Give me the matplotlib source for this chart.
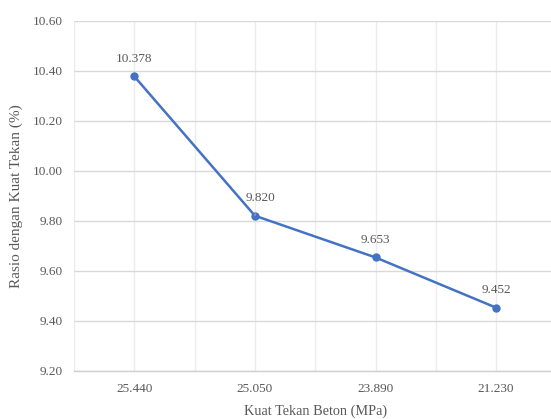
import matplotlib.pyplot as plt

# Data
kuat_tekan = ['25.440', '25.050', '23.890', '21.230']
rasio = [10.378, 9.820, 9.653, 9.452]
y_ticks = [9.20, 9.40, 9.60, 9.80, 10.00, 10.20, 10.40, 10.60]

plt.rcParams['font.family'] = 'Liberation Serif'
text_color = '#595959'
line_color = '#4472C4'

fig = plt.figure(figsize=(5.51, 4.19), dpi=100)
ax = fig.add_axes([0.134, 0.1153, 0.876, 0.8353])

x = list(range(len(kuat_tekan)))
ax.plot(x, rasio, color=line_color, linewidth=1.8, marker='o', markersize=5, zorder=3)

ax.set_xlim(-0.5, len(kuat_tekan) - 0.5)
ax.set_ylim(9.20, 10.60)
ax.set_yticks(y_ticks)
ax.set_yticklabels([f'{v:.2f}' for v in y_ticks])
ax.set_xticks(x)
ax.set_xticklabels(kuat_tekan)

# Gridlines at category centres and boundaries
ax.set_xticks([i + 0.5 for i in range(-1, len(kuat_tekan))], minor=True)
ax.grid(True, axis='y', color='#d9d9d9', linewidth=1.0)
ax.grid(True, axis='x', which='both', color='#ececec', linewidth=1.0)
ax.set_axisbelow(True)

for side in ['top', 'right', 'left']:
    ax.spines[side].set_visible(False)
ax.spines['bottom'].set_color('#d0d0d0')
ax.spines['bottom'].set_linewidth(1.0)

ax.tick_params(axis='both', which='both', length=0, labelsize=9.5, labelcolor=text_color)
ax.tick_params(axis='x', pad=9)
ax.tick_params(axis='y', pad=8)

ax.set_xlabel('Kuat Tekan Beton (MPa)', fontsize=10.3, color=text_color, labelpad=7)
ax.set_ylabel('Rasio dengan Kuat Tekan (%)', fontsize=11, color=text_color, labelpad=7)

# Value labels
for i, v in enumerate(rasio):
    if i == 1:
        ax.annotate(f'{v:.3f}', xy=(i, v), xytext=(4, 12.5), textcoords='offset points',
                    ha='center', va='center', fontsize=9.5, color=text_color,
                    arrowprops=dict(arrowstyle='-', color='#a6a6a6', lw=0.8,
                                    shrinkA=5, shrinkB=3))
    else:
        ax.annotate(f'{v:.3f}', xy=(i, v), xytext=(0, 12.5), textcoords='offset points',
                    ha='center', va='center', fontsize=9.5, color=text_color)

fig.savefig('out.png', dpi=100)
